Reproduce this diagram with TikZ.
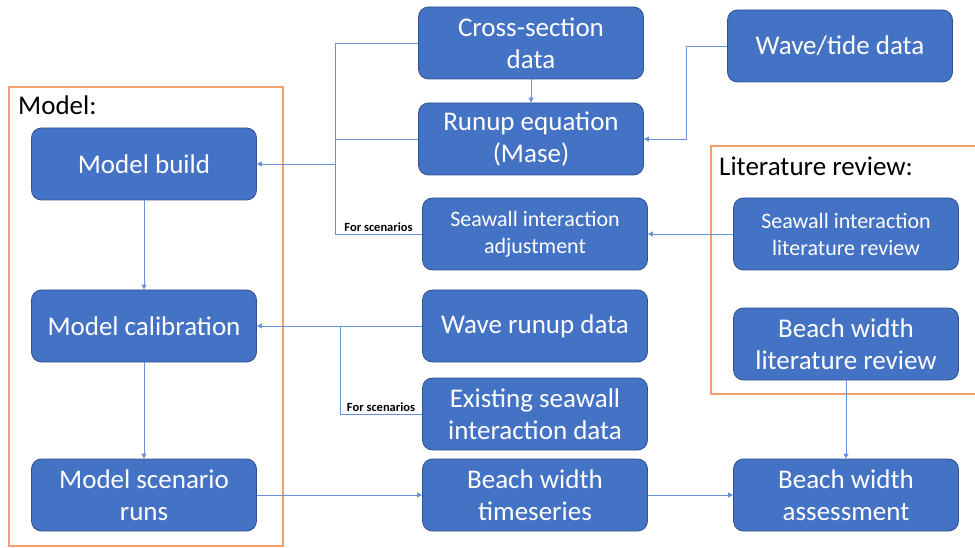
\documentclass[tikz,border=0pt]{standalone}
\usepackage{fontspec}
\setmainfont{Carlito}
\usetikzlibrary{arrows.meta,calc}

\definecolor{boxfill}{RGB}{68,114,196}
\definecolor{boxedge}{RGB}{47,82,143}
\definecolor{connblue}{RGB}{105,145,218}
\definecolor{groupline}{RGB}{243,160,110}

\tikzset{
  proc/.style={rectangle, rounded corners=10pt, fill=boxfill, draw=boxedge,
    line width=0.8pt, text=white, align=center, inner sep=0pt,
    minimum width=225pt, minimum height=72pt,
    font=\fontsize{27}{32}\selectfont},
  procsmall/.style={proc, font=\fontsize{22}{27}\selectfont},
  conn/.style={draw=connblue, line width=0.8pt},
  flow/.style={conn, -{Triangle[length=5pt,width=5pt]}},
  grouplabel/.style={anchor=base west, inner sep=0pt, text=black,
    font=\fontsize{27}{32}\selectfont},
  notelabel/.style={anchor=south, inner sep=2pt, text=black,
    font=\fontsize{12.5}{15}\selectfont\bfseries},
  groupframe/.style={draw=groupline, line width=1.5pt}
}

\begin{document}
\begin{tikzpicture}[x=1pt, y=-1pt]
\useasboundingbox (0,0) rectangle (975,548);

% group frames
\draw[groupframe] (9,87) rectangle (283,546);
\draw[groupframe] (977,146) -- (711,146) -- (711,394) -- (977,394);
\node[grouplabel] (lmodel) at (18,115) {Model:};
\node[grouplabel] (llit) at (719,176) {Literature review:};

% model column
\node[proc] (mb)  at (144,164) {Model build};
\node[proc] (mc)  at (144,326) {Model calibration};
\node[proc] (msr) at (144,495) {Model scenario\\runs};

% data / processing column
\node[proc] (cs)  at (531,43)  {Cross-section\\data};
\node[proc] (ru)  at (531,139) {Runup equation\\(Mase)};
\node[procsmall] (sa) at (535,234) {Seawall interaction\\adjustment};
\node[proc] (wr)  at (535,326) {Wave runup data};
\node[proc] (es)  at (535,414) {Existing seawall\\interaction data};
\node[proc] (bwt) at (535,495) {Beach width\\timeseries};

% right column
\node[proc] (wt)  at (840,46)  {Wave/tide data};
\node[procsmall] (sl) at (846,234) {Seawall interaction\\literature review};
\node[proc] (bwl) at (846,344) {Beach width\\literature review};
\node[proc] (bwa) at (846,495) {Beach width\\assessment};

% junction columns
\coordinate (ja) at (335,0);
\coordinate (jb) at (340,0);
\coordinate (jc) at (686,0);

% inputs to model build
\draw[conn] (cs.west) -- (cs.west -| ja) -- (sa.west -| ja) -- (sa.west)
  node[notelabel, pos=0.5] (n1) {For scenarios};
\draw[conn] (ru.west) -- (ru.west -| ja);
\draw[flow] (mb.east -| ja) -- (mb.east);

% runup equation inputs
\draw[flow] (cs.south) -- (ru.north);
\draw[flow] (wt.west) -- (wt.west -| jc) |- (ru.east);

% seawall literature to adjustment
\draw[flow] (sl.west) -- (sa.east);

% calibration inputs
\draw[flow] (wr.west) -- (mc.east);
\draw[conn] (wr.west -| jb) -- (es.west -| jb) -- (es.west)
  node[notelabel, pos=0.5] (n2) {For scenarios};

% model chain
\draw[flow] (mb.south) -- (mc.north);
\draw[flow] (mc.south) -- (msr.north);
\draw[flow] (msr.east) -- (bwt.west);
\draw[flow] (bwt.east) -- (bwa.west);
\draw[flow] (bwl.south) -- (bwa.north);
\end{tikzpicture}
\end{document}
